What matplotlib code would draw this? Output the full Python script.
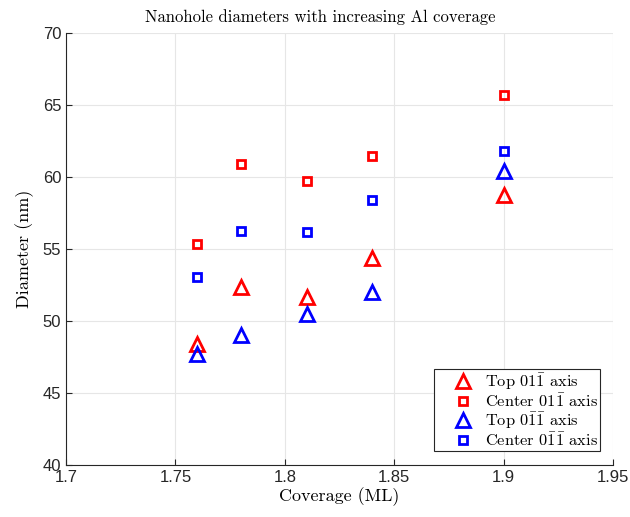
import matplotlib
matplotlib.use("Agg")
import matplotlib.pyplot as plt

coverage = [1.76, 1.78, 1.81, 1.84, 1.90]
top_a = [48.38, 52.38, 51.69, 54.35, 58.73]
center_a = [55.33, 60.90, 59.70, 61.44, 65.69]
top_b = [47.69, 49.03, 50.49, 52.03, 60.44]
center_b = [53.03, 56.25, 56.20, 58.40, 61.83]

labels = [r"Top $01\bar{1}$ axis", r"Center $01\bar{1}$ axis",
          r"Top $0\bar{1}\bar{1}$ axis", r"Center $0\bar{1}\bar{1}$ axis"]
xticks = [1.7, 1.75, 1.8, 1.85, 1.9, 1.95]
xtick_labels = ["1.7", "1.75", "1.8", "1.85", "1.9", "1.95"]
yticks = [40, 45, 50, 55, 60, 65, 70]

plt.rcParams["mathtext.fontset"] = "cm"
serif = "cmr10"

fig = plt.figure(figsize=(6.3, 5.17), dpi=100)
ax = fig.add_axes([66/630, 1-465/517, (613-66)/630, (465-33)/517])

red = (1, 0, 0)
blue = (0, 0, 1)
ax.plot(coverage, top_a, linestyle="none", marker="^", ms=10, mfc="none", mec=red, mew=2, label=labels[0])
ax.plot(coverage, center_a, linestyle="none", marker="s", ms=6, mfc="none", mec=red, mew=2, label=labels[1])
ax.plot(coverage, top_b, linestyle="none", marker="^", ms=10, mfc="none", mec=blue, mew=2, label=labels[2])
ax.plot(coverage, center_b, linestyle="none", marker="s", ms=6, mfc="none", mec=blue, mew=2, label=labels[3])

ax.set_xlim(1.7, 1.95)
ax.set_ylim(40, 70)
ax.set_xticks(xticks)
ax.set_xticklabels(xtick_labels)
ax.set_yticks(yticks)
ax.grid(True, color=(0.9, 0.9, 0.9), linewidth=0.8)
ax.set_axisbelow(True)
for s in ["top", "right"]:
    ax.spines[s].set_visible(False)
for s in ["left", "bottom"]:
    ax.spines[s].set_color((0.15, 0.15, 0.15))
    ax.spines[s].set_linewidth(0.8)
ax.tick_params(direction="in", length=4, colors=(0.15, 0.15, 0.15), labelsize=12)
for lab in ax.get_xticklabels() + ax.get_yticklabels():
    lab.set_fontfamily("Liberation Sans")

fig.text(320/630, 1-17/517, "Nanohole diameters with increasing Al coverage",
         fontfamily=serif, fontsize=12, ha="center", va="center")
ax.set_xlabel("Coverage (ML)", fontfamily=serif, fontsize=13, labelpad=2)
ax.set_ylabel("Diameter (nm)", fontfamily=serif, fontsize=13, labelpad=6)

leg = ax.legend(loc="lower right", bbox_to_anchor=(600/630, 1-451/517), bbox_transform=fig.transFigure,
                borderaxespad=0, prop={"family": serif, "size": 11.8}, fancybox=False,
                edgecolor=(0.15, 0.15, 0.15), framealpha=1, handlelength=3.3,
                labelspacing=0.02, handletextpad=-0.35, borderpad=0.15)
leg.get_frame().set_linewidth(0.8)

fig.savefig("out.png", dpi=100)
